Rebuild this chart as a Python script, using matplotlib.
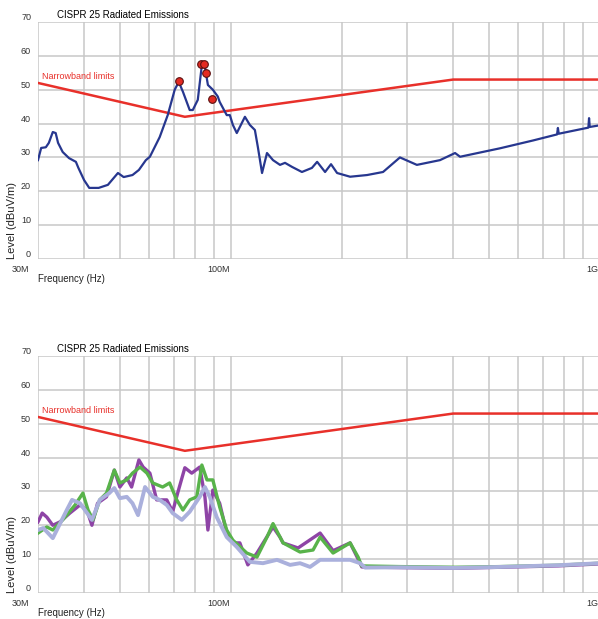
import matplotlib
matplotlib.use("Agg")
import matplotlib.pyplot as plt
from matplotlib import ticker
from matplotlib.transforms import ScaledTranslation

plt.rcParams['font.family'] = ['Liberation Sans', 'DejaVu Sans']

# frequencies in MHz, levels in dBuV/m
limit_freq = [30, 75, 400, 1000]
limit_level = [52, 42, 53, 53]

peak_freq = [72.3, 83.2, 84.3, 85.8, 88.7]
peak_level = [52.6, 57.6, 57.6, 54.8, 47.2]

top_freq = [30.0, 30.6, 31.5, 32.1, 32.9, 33.5, 34.0, 35.0, 36.4, 38.0, 38.6, 40.0,
            41.3, 43.8, 46.4, 49.4, 51.2, 54.1, 56.3, 58.8, 60.3, 64.1, 67.4, 70.4,
            72.2, 74.1, 77.3, 78.8, 81.3, 83.4, 85.0, 86.6, 89.3, 92.1, 93.2, 97.4,
            99.3, 101.2, 103.7, 105.7, 109.1, 112.5, 116.1, 118.3, 121.4, 125.2,
            130.0, 135.8, 140.1, 146.4, 155.7, 165.7, 171.2, 179.9, 186.7, 193.9,
            210.3, 233.8, 258.3, 287.0, 319.0, 368.5, 404.8, 417.7, 536.0, 658.0,
            765.0, 769.0, 773.0, 930.0, 934.0, 938.0, 1000.0]
top_level = [29.2, 32.8, 33.0, 34.3, 37.5, 37.2, 34.3, 31.6, 29.8, 28.7, 26.9, 23.3,
             21.0, 21.0, 21.9, 25.4, 24.2, 24.8, 26.3, 29.2, 30.2, 36.0, 42.5, 50.0,
             52.3, 49.4, 44.0, 44.0, 47.0, 57.3, 56.7, 51.4, 50.0, 48.0, 46.4, 42.5,
             42.5, 39.6, 37.2, 39.0, 42.0, 39.6, 38.1, 33.0, 25.4, 31.3,
             29.2, 27.8, 28.4, 27.2, 25.7, 26.9, 28.7, 25.7, 28.0, 25.4,
             24.3, 24.8, 25.7, 30.0, 27.8, 29.2, 31.3, 30.2, 32.7, 35.0,
             36.8, 38.7, 37.0, 38.8, 41.6, 39.0, 39.5]

purple_freq = [30.0, 30.8, 31.7, 32.9, 34.4, 36.6, 39.0, 40.7, 42.0, 43.5, 46.0, 48.3,
               50.0, 52.2, 53.8, 56.3, 57.8, 60.3, 62.9, 67.0, 69.5, 71.7, 75.0, 78.3,
               82.3, 85.0, 86.6, 89.3, 93.2, 97.4, 101.2, 105.7, 111.1, 117.6, 130.0,
               135.8, 138.4, 152.0, 174.4, 189.1, 210.3, 221.1, 226.2, 287.0, 405.0,
               536.0, 769.0, 1000.0]
purple_level = [21.0, 23.6, 22.4, 20.0, 21.0, 23.6, 26.0, 24.5, 20.0, 26.5, 28.4, 36.3,
                31.3, 34.0, 31.3, 39.3, 37.2, 35.4, 27.5, 27.5, 24.0, 29.5, 37.0, 35.4,
                37.2, 28.4, 18.6, 30.4, 26.5, 17.7, 14.8, 14.8, 8.3, 11.8, 19.5,
                16.5, 14.8, 13.3, 17.7, 12.5, 14.8, 10.0, 7.7, 7.5, 7.3,
                7.6, 8.0, 8.6]

green_freq = [30.0, 31.7, 32.9, 35.0, 37.8, 39.7, 41.0, 42.3, 44.1, 46.0, 48.3, 50.0,
              52.2, 54.1, 56.7, 59.2, 61.4, 65.3, 68.2, 71.3, 74.1, 77.3, 80.8, 83.4,
              86.1, 89.3, 93.2, 97.4, 101.2, 110.4, 117.6, 125.2, 130.0, 138.4, 153.9,
              166.9, 174.4, 189.1, 210.3, 221.1, 226.0, 287.0, 405.0, 536.0, 769.0,
              1000.0]
green_level = [17.7, 19.5, 18.6, 21.6, 26.0, 29.5, 24.5, 21.6, 27.5, 29.5, 36.3, 32.5,
               33.4, 35.4, 37.2, 35.4, 32.5, 31.3, 32.5, 27.5, 24.5, 27.5, 28.4, 37.8,
               33.4, 33.4, 25.4, 18.6, 15.6, 11.8, 10.6, 16.5, 20.5, 14.8, 12.1,
               12.7, 16.5, 11.8, 14.8, 10.6, 8.0, 7.8, 7.6, 7.8, 8.2,
               8.8]

lav_freq = [30.0, 31.0, 32.9, 35.9, 37.1, 39.0, 40.2, 42.0, 44.1, 46.8, 48.3, 50.0,
            52.2, 54.1, 56.0, 58.5, 61.4, 64.1, 67.0, 69.5, 73.6, 77.3, 82.3, 85.0,
            87.6, 91.5, 97.4, 103.7, 112.5, 122.1, 133.3, 144.6, 153.9, 163.8, 174.4,
            210.3, 223.8, 231.0, 287.0, 405.0, 536.0, 769.0, 1000.0]
lav_level = [18.6, 19.2, 16.2, 24.5, 27.5, 26.5, 24.5, 21.6, 27.5, 29.5, 31.0, 28.0,
             28.4, 26.5, 23.0, 31.3, 28.4, 27.5, 26.0, 23.6, 21.6, 24.0, 28.4, 31.3,
             28.4, 22.4, 16.5, 13.6, 9.2, 8.8, 9.8, 8.3, 8.8, 7.7, 9.8,
             9.8, 8.8, 7.5, 7.6, 7.4, 7.7, 8.2, 8.8]

yticks = [0, 10, 20, 30, 40, 50, 60, 70]
xtick_freq = [30, 100, 1000]
xtick_labels = ["30M", "100M", "1G"]

fig = plt.figure(figsize=(5.98, 6.19), dpi=100)
W, H = 598, 619


def setup(ax):
    ax.set_xscale("log")
    ax.set_xlim(30e6, 1e9)
    ax.set_ylim(0, 70)
    for s in ax.spines.values():
        s.set_visible(False)
    ax.xaxis.set_major_locator(ticker.FixedLocator([f * 1e6 for f in xtick_freq]))
    ax.xaxis.set_major_formatter(ticker.FixedFormatter(xtick_labels))
    minor = [f * 1e6 for f in range(40, 100, 10)] + [f * 1e6 for f in range(200, 1000, 100)]
    ax.xaxis.set_minor_locator(ticker.FixedLocator(minor))
    ax.xaxis.set_minor_formatter(ticker.NullFormatter())
    ax.set_yticks(yticks)
    ax.grid(True, which="both", color="#c8c8c8", lw=1.1)
    ax.tick_params(which="both", length=0, labelsize=6.5, labelcolor="#333333")
    ax.tick_params(axis="y", pad=5)
    ax.tick_params(axis="x", pad=4)
    for lab in ax.get_yticklabels():
        lab.set_transform(lab.get_transform() + ScaledTranslation(0, 0.055, fig.dpi_scale_trans))
    for i, lab in enumerate(ax.get_xticklabels()):
        lab.set_horizontalalignment("right")
        dx = -0.09 if i == 0 else -0.015
        lab.set_transform(lab.get_transform() + ScaledTranslation(dx, 0, fig.dpi_scale_trans))
    ax.set_axisbelow(True)
    ax.annotate("CISPR 25 Radiated Emissions", xy=(0, 1), xycoords="axes fraction",
                xytext=(19, 7), textcoords="offset pixels", fontsize=7, va="center")
    ax.annotate("Frequency (Hz)", xy=(0, 0), xycoords="axes fraction",
                xytext=(0, -20), textcoords="offset pixels", fontsize=7, va="center",
                color="#222222")
    ax.annotate("Level (dBuV/m)", xy=(0, 0), xycoords="axes fraction",
                xytext=(-26, 0), textcoords="offset pixels", fontsize=8, rotation=90,
                va="bottom", ha="center", color="#222222")
    ax.plot([f * 1e6 for f in limit_freq], limit_level, color="#e8302a", lw=1.8)
    ax.text(30.7e6, 53.8, "Narrowband limits", color="#e8302a", fontsize=6.5, va="center")


left = 38 / W
width = (600 - 38) / W
height = 237 / H

ax1 = fig.add_axes([left, 1 - 259 / H, width, height])
ax2 = fig.add_axes([left, 1 - 593 / H, width, height])
setup(ax1)
setup(ax2)

ax1.plot([f * 1e6 for f in top_freq], top_level, color="#27378f", lw=1.6, zorder=3)
ax1.plot([f * 1e6 for f in peak_freq], peak_level, "o", ms=5.5, mfc="#e42a22",
         mec="#5a1010", mew=0.8, zorder=4)

ax2.plot([f * 1e6 for f in purple_freq], purple_level, color="#8e44a6", lw=2.4, zorder=3)
ax2.plot([f * 1e6 for f in green_freq], green_level, color="#58b34a", lw=2.4, zorder=3)
ax2.plot([f * 1e6 for f in lav_freq], lav_level, color="#aab0dc", lw=2.8, zorder=3)

fig.savefig("out.png", dpi=100)
